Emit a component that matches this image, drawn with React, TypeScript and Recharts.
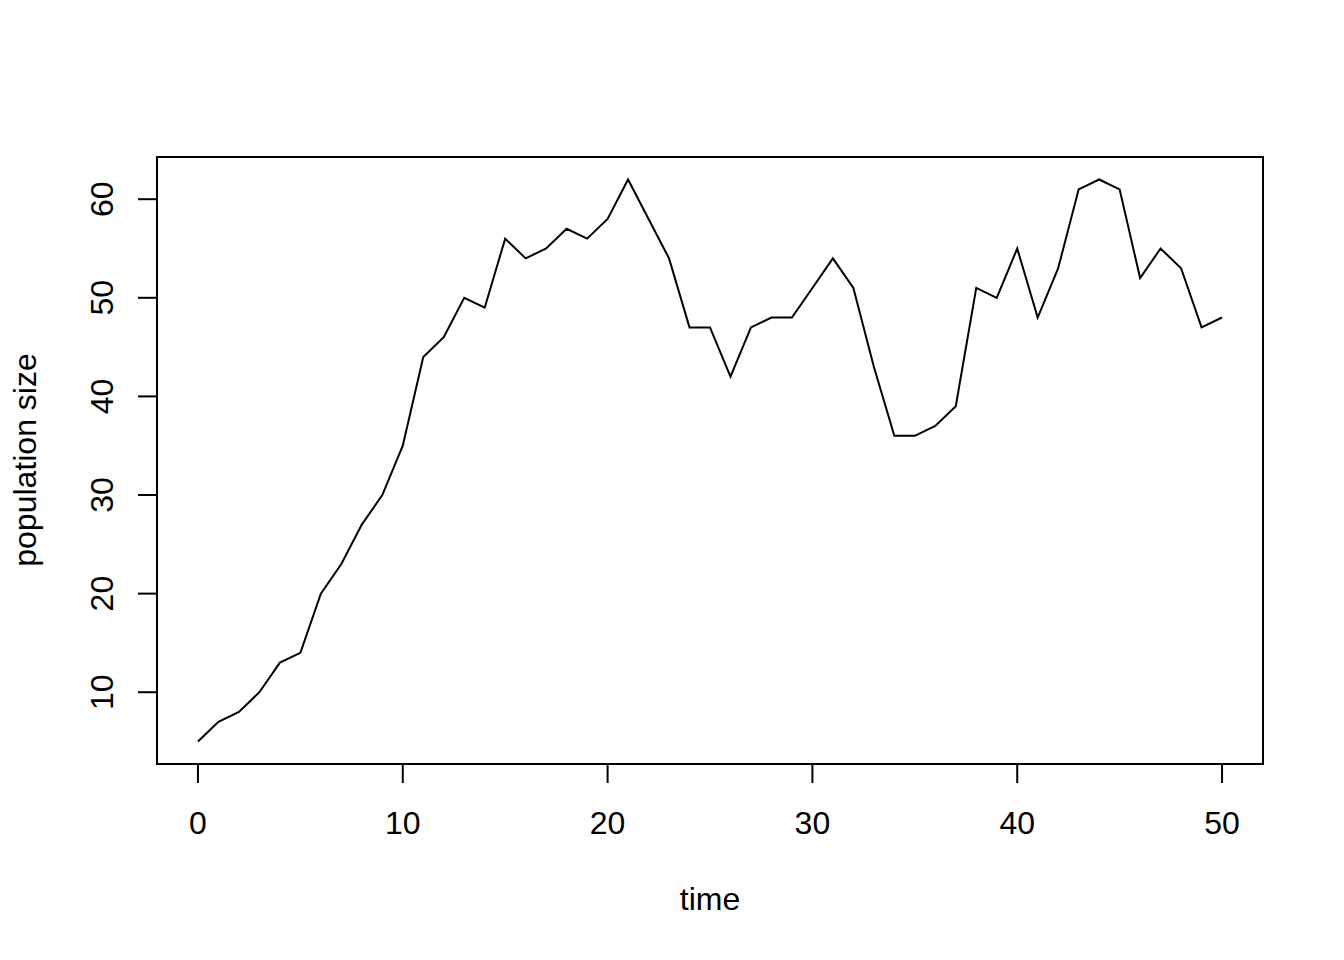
import React from "react";
import {
  LineChart,
  Line,
  XAxis,
  YAxis,
  ReferenceArea,
  Label,
} from "recharts";

// population size per time step
const times = [
  0, 1, 2, 3, 4, 5, 6, 7, 8, 9, 10, 11, 12, 13, 14, 15, 16, 17, 18, 19, 20,
  21, 22, 23, 24, 25, 26, 27, 28, 29, 30, 31, 32, 33, 34, 35, 36, 37, 38, 39,
  40, 41, 42, 43, 44, 45, 46, 47, 48, 49, 50,
];
const popSize = [
  5, 7, 8, 10, 13, 14, 20, 23, 27, 30, 35, 44, 46, 50, 49, 56, 54, 55, 57, 56,
  58, 62, 58, 54, 47, 47, 42, 47, 48, 48, 51, 54, 51, 43, 36, 36, 37, 39, 51,
  50, 55, 48, 53, 61, 62, 61, 52, 55, 53, 47, 48,
];
const xTicks = [0, 10, 20, 30, 40, 50];
const yTicks = [10, 20, 30, 40, 50, 60];

// R pads the data range by 4% on each side
const X_DOMAIN: [number, number] = [-2, 52];
const Y_DOMAIN: [number, number] = [2.72, 64.28];

const data = times.map((t, i) => ({ time: t, pop: popSize[i] }));

const FONT = "'Liberation Sans', Arial, sans-serif";

function YTick(props: any) {
  const { y, payload } = props;
  const bx = 113;
  return (
    <text
      x={bx}
      y={y}
      transform={`rotate(-90, ${bx}, ${y})`}
      textAnchor="middle"
      fontSize={32}
      fontFamily={FONT}
      fill="#000"
    >
      {payload.value}
    </text>
  );
}

export default function App() {
  return (
    <div style={{ position: "absolute", left: 0, top: 0, background: "#fff" }}>
      <LineChart
        width={1344}
        height={960}
        data={data}
        margin={{ top: 157, right: 81, bottom: 0, left: 0 }}
      >
        <XAxis
          dataKey="time"
          type="number"
          domain={X_DOMAIN}
          ticks={xTicks}
          height={196}
          axisLine={false}
          tickSize={19}
          tickMargin={28}
          tickLine={{ stroke: "#000", strokeWidth: 2 }}
          tick={{ fontSize: 32, fill: "#000", fontFamily: FONT }}
          allowDataOverflow
        >
          <Label
            value="time"
            position="insideBottom"
            offset={50}
            fontSize={32}
            fill="#000"
            fontFamily={FONT}
          />
        </XAxis>
        <YAxis
          type="number"
          domain={Y_DOMAIN}
          ticks={yTicks}
          width={157}
          axisLine={false}
          tickSize={19}
          tickLine={{ stroke: "#000", strokeWidth: 2 }}
          tick={<YTick />}
          allowDataOverflow
        >
          <Label
            content={() => (
              <text
                x={36}
                y={460}
                transform="rotate(-90, 36, 460)"
                textAnchor="middle"
                fontSize={32}
                fontFamily={FONT}
                fill="#000"
              >
                population size
              </text>
            )}
          />
        </YAxis>
        <ReferenceArea
          x1={X_DOMAIN[0]}
          x2={X_DOMAIN[1]}
          y1={Y_DOMAIN[0]}
          y2={Y_DOMAIN[1]}
          fill="none"
          stroke="#000"
          strokeWidth={2}
          ifOverflow="visible"
        />
        <Line
          type="linear"
          dataKey="pop"
          stroke="#000"
          strokeWidth={2}
          dot={false}
          isAnimationActive={false}
        />
      </LineChart>
    </div>
  );
}
